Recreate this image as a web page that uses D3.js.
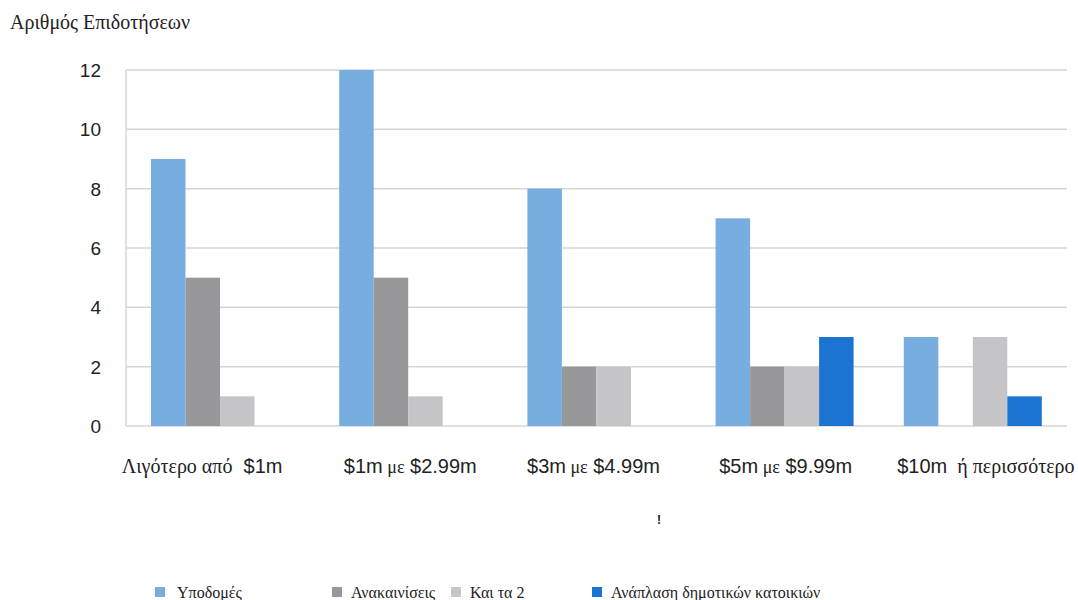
<!DOCTYPE html>
<html>
<head>
<meta charset="utf-8">
<script src="https://cdn.jsdelivr.net/npm/d3@7"></script>
<style>
  body { margin: 0; background: #fff; }
  svg { display: block; }
</style>
</head>
<body>
<div id="chart"></div>
<script>
// values
var categories = ["lt1", "1to3", "3to5", "5to10", "10plus"];
var labelParts = [
  [["Λιγότερο από", "serif"], ["  $1m", "sans"]],
  [["$1m", "sans"], [" με", "serifs"], [" $2.99m", "sans"]],
  [["$3m", "sans"], [" με", "serifs"], [" $4.99m", "sans"]],
  [["$5m", "sans"], [" με", "serifs"], [" $9.99m", "sans"]],
  [["$10m", "sans"], ["  ή περισσότερο", "serif"]]
];
var labelShift = [-18, 2, -3, 1, 13];
var seriesNames = ["Υποδομές", "Ανακαινίσεις", "Και τα 2", "Ανάπλαση δημοτικών κατοικιών"];
var seriesColors = ["#78ade2", "#98989b", "#c5c5c7", "#1b74d1"];
var infra = [9, 12, 8, 7, 3];
var renov = [5, 5, 2, 2, 0];
var both = [1, 1, 2, 2, 3];
var housing = [0, 0, 0, 3, 1];
var yTicks = [0, 2, 4, 6, 8, 10, 12];
var legendX = [155, 332, 451, 592];

var series = [infra, renov, both, housing];

var width = 1078, height = 600;
var plotLeft = 126, plotRight = 1067, plotTop = 70, plotBottom = 426;

var svg = d3.select("#chart").append("svg")
    .attr("width", width)
    .attr("height", height);

var x0 = d3.scaleBand().domain(categories).range([plotLeft, plotRight]);
var x1 = d3.scaleBand().domain(d3.range(series.length))
    .range([25, 25 + 138]);
var y = d3.scaleLinear().domain([0, 12]).range([plotBottom, plotTop]);

// gridlines
svg.selectAll("line.grid")
    .data(yTicks)
    .enter()
    .append("line")
      .attr("class", "grid")
      .attr("x1", plotLeft)
      .attr("x2", plotRight)
      .attr("y1", function(d) { return y(d); })
      .attr("y2", function(d) { return y(d); })
      .attr("stroke", "#d6d6d6")
      .attr("stroke-width", 1.5);

svg.append("line")
    .attr("x1", plotLeft).attr("x2", plotLeft)
    .attr("y1", y(12)).attr("y2", y(0))
    .attr("stroke", "#d6d6d6")
    .attr("stroke-width", 1.5);

// y tick labels
svg.selectAll("text.ytick")
    .data(yTicks)
    .enter()
    .append("text")
      .attr("class", "ytick")
      .attr("x", 101)
      .attr("y", function(d) { return y(d) + 7; })
      .attr("text-anchor", "end")
      .attr("font-family", "Arial, 'Liberation Sans', sans-serif")
      .attr("font-size", 19)
      .attr("fill", "#222")
      .text(function(d) { return d; });

// bars
var groups = svg.selectAll("g.group")
    .data(categories)
    .enter()
    .append("g")
      .attr("class", "group")
      .attr("transform", function(c) { return "translate(" + x0(c) + ",0)"; });

groups.selectAll("rect")
    .data(function(c, i) {
      return series.map(function(s, k) { return { k: k, v: s[i] }; });
    })
    .enter()
    .append("rect")
      .attr("x", function(d) { return x1(d.k); })
      .attr("width", x1.bandwidth())
      .attr("y", function(d) { return y(d.v); })
      .attr("height", function(d) { return y(0) - y(d.v); })
      .attr("fill", function(d) { return seriesColors[d.k]; });

// x labels
var fonts = {
  serif: "'Times New Roman', 'Liberation Serif', serif",
  serifs: "'Times New Roman', 'Liberation Serif', serif",
  sans: "Arial, 'Liberation Sans', sans-serif"
};
var sizes = { serif: 20, serifs: 18, sans: 20 };

svg.selectAll("text.xlabel")
    .data(categories)
    .enter()
    .append("text")
      .attr("class", "xlabel")
      .attr("x", function(c, i) { return x0(c) + x0.bandwidth() / 2 + labelShift[i]; })
      .attr("y", 473)
      .attr("text-anchor", "middle")
      .attr("fill", "#222")
      .style("white-space", "pre")
      .each(function(c, i) {
        var t = d3.select(this);
        labelParts[i].forEach(function(p) {
          t.append("tspan")
            .attr("font-family", fonts[p[1]])
            .attr("font-size", sizes[p[1]])
            .text(p[0]);
        });
      });

// title
svg.append("text")
    .attr("x", 10)
    .attr("y", 29)
    .attr("font-family", fonts.serif)
    .attr("font-size", 20)
    .attr("fill", "#222")
    .text("Αριθμός Επιδοτήσεων");

// stray mark under the axis
svg.append("text")
    .attr("x", 659)
    .attr("y", 524)
    .attr("text-anchor", "middle")
    .attr("font-family", fonts.sans)
    .attr("font-weight", "bold")
    .attr("font-size", 12)
    .attr("fill", "#111")
    .text("!");

// legend
var legend = svg.selectAll("g.legend")
    .data(seriesNames)
    .enter()
    .append("g")
      .attr("class", "legend")
      .attr("transform", function(d, i) { return "translate(" + legendX[i] + ",587)"; });

legend.append("rect")
    .attr("width", 10)
    .attr("height", 10)
    .attr("fill", function(d, i) { return seriesColors[i]; });

legend.append("text")
    .attr("x", function(d, i) { return i == 0 ? 22 : 19; })
    .attr("y", 11)
    .attr("font-family", fonts.serif)
    .attr("font-size", 16)
    .attr("fill", "#222")
    .text(function(d) { return d; });
</script>
</body>
</html>
